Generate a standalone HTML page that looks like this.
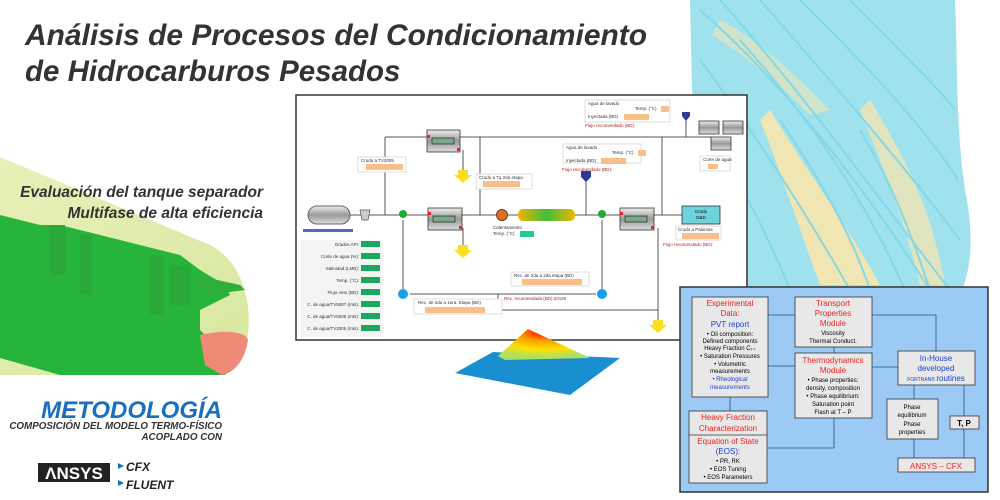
<!DOCTYPE html>
<html><head><meta charset="utf-8"><style>
html,body{margin:0;padding:0;background:#fff;}
svg{display:block;}
text{font-family:"Liberation Sans",Arial,sans-serif;}
</style></head><body>
<svg width="1000" height="500" viewBox="0 0 1000 500" xmlns="http://www.w3.org/2000/svg">
<defs>
<linearGradient id="tankG" x1="0" y1="0" x2="0" y2="1"><stop offset="0" stop-color="#eee"/><stop offset="0.5" stop-color="#999"/><stop offset="1" stop-color="#ddd"/></linearGradient>
<linearGradient id="pipeG" x1="0" y1="0" x2="1" y2="0"><stop offset="0" stop-color="#f3b400"/><stop offset="0.5" stop-color="#3fbf3f"/><stop offset="1" stop-color="#f3b400"/></linearGradient>
<linearGradient id="cyl" x1="0" y1="0" x2="1" y2="1"><stop offset="0" stop-color="#e8f0b8"/><stop offset="1" stop-color="#d7e7a0"/></linearGradient>
<radialGradient id="peak" cx="0.5" cy="0.1" r="0.8"><stop offset="0" stop-color="#f00"/><stop offset="0.35" stop-color="#f7a000"/><stop offset="0.7" stop-color="#ffe000"/><stop offset="1" stop-color="#aee060"/></radialGradient>
</defs>

<!-- right streamline background -->
<path d="M690,0 L955,0 C958,60 955,120 965,190 C975,240 970,270 962,290 L700,290 C690,220 700,150 692,90 Z" fill="#9fe2ee"/>
<path d="M770,110 C800,160 850,230 880,285 L820,285 C800,230 780,170 760,120 Z" fill="#f0e6b4"/>
<path d="M870,100 C900,150 930,200 945,285 L920,285 C905,220 880,160 860,110 Z" fill="#f0e6b4" opacity="0.8"/>
<path d="M720,20 C760,40 800,80 830,110 L810,115 C780,85 745,55 712,35 Z" fill="#f0e6b4" opacity="0.6"/>
<g stroke="#7fd6e8" stroke-width="2" fill="none" opacity="0.9">
<path d="M700,10 C780,80 860,180 930,290"/><path d="M720,0 C800,90 880,200 950,290"/><path d="M760,0 C830,80 900,160 960,240"/><path d="M800,0 C860,60 920,120 958,180"/><path d="M700,60 C760,140 810,220 850,290"/><path d="M700,120 C740,180 770,240 790,290"/><path d="M850,0 C900,50 940,90 955,110"/><path d="M740,40 C820,130 870,210 905,290"/><path d="M780,120 C820,180 850,230 870,290"/><path d="M860,130 C890,180 910,230 930,290"/>
</g>

<!-- title -->
<text x="25" y="45" font-size="29.5" font-weight="bold" font-style="italic" fill="#333" textLength="622" lengthAdjust="spacingAndGlyphs">Análisis de Procesos del Condicionamiento</text>
<text x="25" y="81" font-size="29.5" font-weight="bold" font-style="italic" fill="#333">de Hidrocarburos Pesados</text>

<!-- left tank CFD -->
<path d="M0,157 L210,245 C260,270 258,360 225,375 L0,375 Z" fill="url(#cyl)"/>
<path d="M0,215 L40,225 L50,225 L60,225 L180,255 L200,270 L225,285 L230,295 L200,310 L200,330 L215,345 L230,365 L225,375 L60,375 L0,358 Z" fill="#27b43a"/>
<path d="M200,335 C220,330 245,330 248,340 C245,360 235,372 222,375 L205,365 Z" fill="#ef8a78"/>
<g fill="#2aa83a"><rect x="50" y="225" width="15" height="50"/><rect x="80" y="235" width="12" height="60"/><rect x="150" y="255" width="14" height="60"/><rect x="170" y="265" width="20" height="40"/></g>
<path d="M195,275 L240,285 L245,290 L205,295 Z" fill="#2fae3c"/>
<text x="263" y="197" font-size="15.5" font-weight="bold" font-style="italic" fill="#333" text-anchor="end">Evaluación del tanque separador</text>
<text x="263" y="218" font-size="15.5" font-weight="bold" font-style="italic" fill="#333" text-anchor="end">Multifase de alta eficiencia</text>

<text x="222" y="418" font-size="24" font-weight="bold" font-style="italic" fill="#1a6fc0" text-anchor="end">METODOLOGÍA</text>
<text x="222" y="429" font-size="9.8" font-weight="bold" font-style="italic" fill="#333" text-anchor="end">COMPOSICIÓN DEL MODELO TERMO-FÍSICO</text>
<text x="222" y="440" font-size="9.8" font-weight="bold" font-style="italic" fill="#333" text-anchor="end">ACOPLADO CON</text>
<rect x="38" y="463" width="72" height="19" fill="#222"/>
<text x="74" y="479" font-size="17" font-weight="bold" fill="#fff" text-anchor="middle" font-family="Liberation Serif">ΛNSYS</text>
<polygon points="118,463 124,466 118,469" fill="#1a6fc0"/><text x="126" y="471" font-size="12" font-weight="bold" font-style="italic" fill="#222">CFX</text>
<polygon points="118,480 124,483 118,486" fill="#1a6fc0"/><text x="126" y="489" font-size="12" font-weight="bold" font-style="italic" fill="#222">FLUENT</text>

<!-- process diagram panel -->
<rect x="296" y="95" width="451" height="245" fill="#fff" stroke="#333" stroke-width="1.5"/>
<g stroke="#555" stroke-width="1" fill="none">
<line x1="350" y1="215" x2="682" y2="215"/>
<line x1="385" y1="137" x2="712" y2="137"/>
<line x1="385" y1="137" x2="385" y2="215"/>
<line x1="480" y1="137" x2="480" y2="215"/>
<line x1="662" y1="137" x2="662" y2="215"/>
<line x1="658" y1="228" x2="658" y2="322"/>
<line x1="586" y1="175" x2="586" y2="215"/>
<line x1="686" y1="118" x2="686" y2="137"/>
<line x1="403" y1="220" x2="403" y2="290"/>
<line x1="602" y1="220" x2="602" y2="290"/>
<line x1="410" y1="294" x2="596" y2="294"/>
<line x1="498" y1="294" x2="498" y2="310"/><line x1="498" y1="310" x2="658" y2="310"/>
<line x1="463" y1="150" x2="463" y2="170"/><line x1="463" y1="228" x2="463" y2="245"/>
</g>
<rect x="308" y="206" width="42" height="18" rx="9" fill="url(#tankG)" stroke="#666"/>
<rect x="303" y="229" width="50" height="3" fill="#4a6fc0"/>
<path d="M360,210 L370,210 L368,220 L362,220 Z" fill="#ccc" stroke="#555" stroke-width="0.7"/>
<g stroke="#333" stroke-width="0.8">
<rect x="427" y="130" width="33" height="22" fill="url(#tankG)"/><rect x="432" y="138" width="22" height="6" fill="#7a8"/>
<rect x="428" y="208" width="34" height="22" fill="url(#tankG)"/><rect x="433" y="216" width="22" height="6" fill="#7a8"/>
<rect x="620" y="208" width="34" height="22" fill="url(#tankG)"/><rect x="625" y="216" width="22" height="6" fill="#7a8"/>
<rect x="699" y="121" width="20" height="13" fill="url(#tankG)"/><rect x="723" y="121" width="20" height="13" fill="url(#tankG)"/><rect x="711" y="137" width="20" height="13" fill="url(#tankG)"/>
</g>
<g fill="#e22"><rect x="427" y="135" width="3" height="3"/><rect x="457" y="148" width="3" height="3"/><rect x="428" y="212" width="3" height="3"/><rect x="459" y="226" width="3" height="3"/><rect x="620" y="212" width="3" height="3"/><rect x="651" y="226" width="3" height="3"/></g>
<circle cx="502" cy="215" r="5.5" fill="#e07020" stroke="#733"/>
<rect x="518" y="209" width="57" height="12" rx="5" fill="url(#pipeG)"/>
<circle cx="403" cy="214" r="4" fill="#2a3"/><circle cx="602" cy="214" r="4" fill="#2a3"/>
<g fill="#18a0e8"><circle cx="403" cy="294" r="5"/><circle cx="602" cy="294" r="5"/></g>
<rect x="682" y="206" width="38" height="18" fill="#6fd3de" stroke="#333" stroke-width="0.8"/>
<text x="701" y="213" font-size="4.5" text-anchor="middle">Crudo</text><text x="701" y="219" font-size="4.5" text-anchor="middle">D&amp;D</text>
<g fill="#f6e020"><polygon points="458,170 468,170 468,175 472,175 463,183 454,175 458,175"/><polygon points="458,245 468,245 468,250 472,250 463,258 454,250 458,250"/><polygon points="653,320 663,320 663,325 667,325 658,333 649,325 653,325"/></g>
<g fill="#2a3a9a"><polygon points="682,112 690,112 690,116 686,121 682,116"/><polygon points="581,171 591,171 591,177 586,182 581,177"/></g>
<g font-size="4.5" fill="#333">
<rect x="358" y="157" width="48" height="15" fill="#fff" stroke="#ddd"/><text x="361" y="162">Crudo a TV2005</text><rect x="366" y="164" width="37" height="6" fill="#f9bf8a"/>
<rect x="476" y="174" width="56" height="15" fill="#fff" stroke="#ddd"/><text x="479" y="179">Crudo a Tq 2da etapa</text><rect x="483" y="181" width="37" height="6" fill="#f9bf8a"/>
<rect x="585" y="100" width="85" height="22" fill="#fff" stroke="#ddd"/><text x="588" y="105">Agua de lavado</text><text x="635" y="110">Temp. (°C)</text><rect x="661" y="106" width="8" height="6" fill="#f9bf8a"/><text x="588" y="118">Inyectada (BD)</text><rect x="624" y="114" width="25" height="6" fill="#f9bf8a"/>
<text x="585" y="127" fill="#a22">Flujo recomendado (BD):</text>
<rect x="563" y="144" width="78" height="19" fill="#fff" stroke="#ddd"/><text x="566" y="149">Agua de lavado</text><text x="612" y="154">Temp. (°C)</text><rect x="638" y="150" width="8" height="6" fill="#f9bf8a"/><text x="566" y="162">Inyectada (BD)</text><rect x="601" y="158" width="25" height="6" fill="#f9bf8a"/>
<text x="562" y="171" fill="#a22">Flujo recomendado (BD):</text>
<text x="493" y="229">Calentamiento</text><text x="493" y="235">Temp. (°C)</text><rect x="520" y="231" width="14" height="6" fill="#2c9"/>
<rect x="700" y="156" width="30" height="15" fill="#fff" stroke="#ddd"/><text x="703" y="161">Corte de agua</text><rect x="708" y="164" width="10" height="5" fill="#f9bf8a"/>
<rect x="676" y="226" width="45" height="14" fill="#fff" stroke="#ddd"/><text x="678" y="231">Crudo a Palomas</text><rect x="682" y="233" width="37" height="6" fill="#f9bf8a"/>
<text x="663" y="246" fill="#a22">Flujo recomendado (BD):</text>
<rect x="511" y="272" width="78" height="14" fill="#fff" stroke="#ddd"/><text x="514" y="277">Rec. de 2da a 2da etapa (BD)</text><rect x="522" y="279" width="60" height="6" fill="#f9bf8a"/>
<text x="504" y="300" fill="#a22">Rec. recomendada (BD):20160</text>
<rect x="414" y="299" width="88" height="15" fill="#fff" stroke="#ddd"/><text x="418" y="304">Rec. de 2da a 1era. Etapa (BD)</text><rect x="425" y="307" width="60" height="6" fill="#f9bf8a"/>
</g>
<g font-size="4.5" fill="#333" text-anchor="end">
<rect x="300" y="240" width="83" height="97" fill="#f4f4f4"/>
<text x="359" y="246">Grados API:</text><text x="359" y="258">Corte de agua (%):</text><text x="359" y="270">Salinidad (LMB):</text><text x="359" y="282">Temp. (°C):</text><text x="359" y="294">Flujo neto (BD):</text><text x="359" y="306">C. de agua/TV5007 (mts):</text><text x="359" y="318">C. de agua/TV5005 (mts):</text><text x="359" y="330">C. de agua/TV2005 (mts):</text>
</g>
<g fill="#19a860"><rect x="361" y="241" width="19" height="6"/><rect x="361" y="253" width="19" height="6"/><rect x="361" y="265" width="19" height="6"/><rect x="361" y="277" width="19" height="6"/><rect x="361" y="289" width="19" height="6"/><rect x="361" y="301" width="19" height="6"/><rect x="361" y="313" width="19" height="6"/><rect x="361" y="325" width="19" height="6"/></g>

<!-- 3D surface -->
<polygon points="455,373 493,352 620,358 570,395" fill="#1a8fd0"/>
<path d="M498,356 L528,329 L590,358 L505,360 Z" fill="url(#peak)"/>

<!-- flowchart panel -->
<rect x="680" y="287" width="308" height="205" fill="#9ccaf4" stroke="#333" stroke-width="1.5"/>
<g stroke="#333" stroke-width="0.8" fill="#e8e8e8">
<rect x="692" y="297" width="76" height="100"/>
<rect x="795" y="297" width="77" height="50"/>
<rect x="795" y="353" width="77" height="65"/>
<rect x="689" y="411" width="78" height="72"/><line x1="689" y1="435" x2="767" y2="435"/>
<rect x="898" y="351" width="77" height="34"/>
<rect x="887" y="399" width="51" height="40"/>
<rect x="950" y="416" width="29" height="13"/>
<rect x="898" y="458" width="77" height="14"/>
</g>
<g stroke="#1d4f8a" stroke-width="0.8" fill="none">
<line x1="768" y1="315" x2="795" y2="315"/><line x1="768" y1="366" x2="795" y2="366"/>
<line x1="730" y1="397" x2="730" y2="411"/><line x1="767" y1="448" x2="834" y2="448"/><line x1="834" y1="448" x2="834" y2="418"/>
<line x1="834" y1="353" x2="834" y2="347"/><line x1="872" y1="367" x2="898" y2="367"/>
<line x1="872" y1="315" x2="936" y2="315"/><line x1="936" y1="315" x2="936" y2="351"/>
<line x1="914" y1="385" x2="914" y2="399"/><line x1="914" y1="439" x2="914" y2="458"/>
<line x1="964" y1="458" x2="964" y2="429"/><line x1="964" y1="416" x2="964" y2="385"/>
</g>
<g text-anchor="middle" font-size="6">
<text x="730" y="306" fill="#e22" font-size="8">Experimental</text><text x="730" y="316" fill="#e22" font-size="8">Data:</text><text x="730" y="327" fill="#1a3fd0" font-size="8">PVT report</text>
<text x="730" y="336">• Oil composition:</text><text x="730" y="343">Defined components</text><text x="730" y="350">Heavy Fraction C₇₊</text><text x="730" y="358">• Saturation Pressures</text><text x="730" y="366">• Volumetric</text><text x="730" y="373">measurements</text><text x="730" y="381" fill="#1a3fd0">• Rheological</text><text x="730" y="389" fill="#1a3fd0">measurements</text>
<text x="833" y="306" fill="#e22" font-size="8">Transport</text><text x="833" y="316" fill="#e22" font-size="8">Properties</text><text x="833" y="326" fill="#e22" font-size="8">Module</text><text x="833" y="335">Viscosity</text><text x="833" y="343">Thermal Conduct.</text>
<text x="833" y="363" fill="#e22" font-size="8">Thermodynamics</text><text x="833" y="373" fill="#e22" font-size="8">Module</text>
<text x="833" y="382">• Phase properties:</text><text x="833" y="390">density, composition</text><text x="833" y="398">• Phase equilibrium:</text><text x="833" y="406">Saturation point</text><text x="833" y="414">Flash at T – P</text>
<text x="728" y="420" fill="#e22" font-size="8">Heavy Fraction</text><text x="728" y="431" fill="#e22" font-size="8">Characterization</text>
<text x="728" y="444" fill="#e22" font-size="8">Equation of State</text><text x="728" y="454" fill="#1a3fd0" font-size="8">(EOS):</text>
<text x="728" y="463">• PR, RK</text><text x="728" y="471">• EOS Tuning</text><text x="728" y="479">• EOS Parameters</text>
<text x="936" y="361" fill="#1a3fd0" font-size="8">In-House</text><text x="936" y="371" fill="#1a3fd0" font-size="8">developed</text><text x="936" y="381" fill="#1a3fd0" font-size="8"><tspan font-size="5">FORTRAN® </tspan>routines</text>
<text x="912" y="409">Phase</text><text x="912" y="417">equilibrium</text><text x="912" y="426">Phase</text><text x="912" y="434">properties</text>
<text x="964" y="426" font-size="8" font-weight="bold">T, P</text>
<text x="936" y="469" fill="#e22" font-size="8">ANSYS – CFX</text>
</g>
</svg>
</body></html>
